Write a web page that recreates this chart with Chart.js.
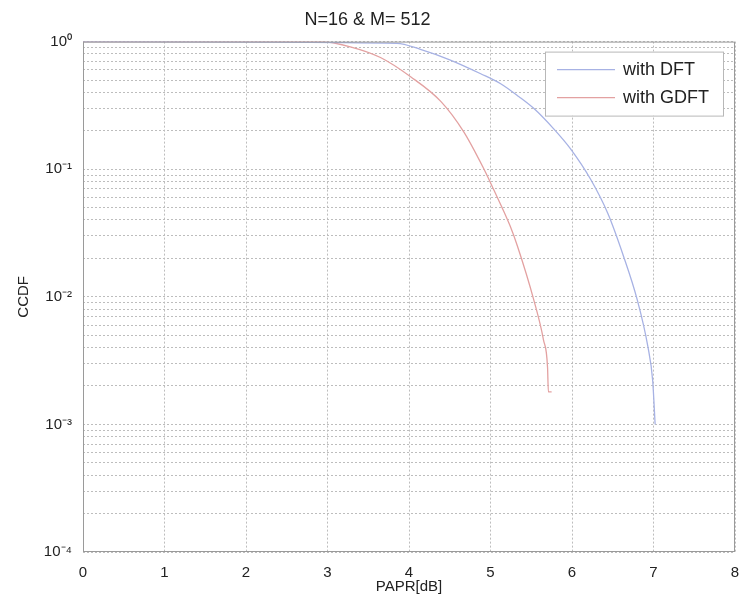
<!DOCTYPE html>
<html>
<head>
<meta charset="utf-8">
<script src="https://cdn.jsdelivr.net/npm/chart.js@4/dist/chart.umd.min.js"></script>
<style>
  html, body { margin: 0; padding: 0; background: #fff; }
  #wrap { width: 741px; height: 607px; }
</style>
</head>
<body>
<div id="wrap"><canvas id="ccdf"></canvas></div>
<script>
// PAPR [dB] and CCDF
const dftPapr = [0, 3.85, 4.14, 4.5, 4.88, 5.12, 5.35, 5.53, 5.77, 5.98, 6.23, 6.44, 6.63, 6.80, 6.93, 6.99, 7.02];
const dftCcdf = [1, 0.97, 0.87, 0.72, 0.56, 0.47, 0.37, 0.30, 0.209, 0.145, 0.083, 0.045, 0.021, 0.0095, 0.0041, 0.0022, 0.0010];

const gdftPapr = [0, 2.92, 3.28, 3.65, 4.02, 4.39, 4.67, 4.91, 5.04, 5.24, 5.33, 5.53, 5.65, 5.70, 5.71, 5.75];
const gdftCcdf = [1, 1, 0.91, 0.75, 0.53, 0.34, 0.197, 0.103, 0.069, 0.036, 0.025, 0.0095, 0.0046, 0.0028, 0.0018, 0.0018];

const xTicks = [0, 1, 2, 3, 4, 5, 6, 7, 8];
const decades = [-4, -3, -2, -1, 0];
const labels = ['with DFT', 'with GDFT'];
const colors = ['#a7b2e4', '#e3a1a1'];

const FONT = 'Arial, "Liberation Sans", Helvetica, sans-serif';
const sup = { '0': '\u2070', '1': '\u00B9', '2': '\u00B2', '3': '\u00B3', '4': '\u2074', '-': '\u207B' };
const toSup = (n) => String(n).split('').map((c) => sup[c]).join('');

// log grid values: 1..9 x 10^k
const yGrid = [];
decades.forEach((k) => {
  if (k === 0) { yGrid.push(1); return; }
  for (let m = 1; m <= 9; m++) yGrid.push(m * Math.pow(10, k));
});

const pts = (xs, ys) => xs.map((x, i) => ({ x: x, y: ys[i] }));

const boxAndLegend = {
  id: 'boxAndLegend',
  afterDraw(chart) {
    const { ctx, chartArea: a } = chart;
    ctx.save();
    ctx.strokeStyle = '#9a9a9a';
    ctx.lineWidth = 1;
    ctx.strokeRect(a.left + 0.5, a.top + 0.5, a.right - a.left - 1, a.bottom - a.top - 1);

    // legend box, top right inside the axes
    const w = 178, h = 64;
    const bx = a.right - 12 - w, by = a.top + 10;
    ctx.fillStyle = '#fff';
    ctx.fillRect(bx, by, w, h);
    ctx.strokeStyle = '#b8b8b8';
    ctx.strokeRect(bx + 0.5, by + 0.5, w, h);
    ctx.font = '18px ' + FONT;
    ctx.textBaseline = 'middle';
    chart.data.datasets.forEach((ds, i) => {
      const ly = by + 18 + i * 28;
      ctx.strokeStyle = ds.borderColor;
      ctx.lineWidth = 1.3;
      ctx.beginPath();
      ctx.moveTo(bx + 12, ly);
      ctx.lineTo(bx + 70, ly);
      ctx.stroke();
      ctx.fillStyle = '#222';
      ctx.fillText(ds.label, bx + 78, ly);
    });
    ctx.restore();
  }
};

new Chart(document.getElementById('ccdf'), {
  type: 'line',
  data: {
    datasets: [
      { label: labels[0], data: pts(dftPapr, dftCcdf), borderColor: colors[0] },
      { label: labels[1], data: pts(gdftPapr, gdftCcdf), borderColor: colors[1] },
    ],
  },
  options: {
    responsive: true,
    maintainAspectRatio: false,
    animation: false,
    layout: { padding: { left: 0, right: 6, top: 0, bottom: 0 } },
    elements: {
      point: { radius: 0 },
      line: { borderWidth: 1.3, cubicInterpolationMode: 'monotone', fill: false },
    },
    plugins: {
      legend: { display: false },
      tooltip: { enabled: false },
      title: {
        display: true,
        text: 'N=16 & M= 512',
        color: '#222',
        font: { family: FONT, size: 18, weight: 'normal' },
        padding: { top: 9, bottom: 11 },
      },
    },
    scales: {
      x: {
        type: 'linear',
        min: 0,
        max: 8,
        afterBuildTicks: (s) => { s.ticks = xTicks.map((v) => ({ value: v })); },
        afterFit: (s) => { s.height = 55; s.paddingLeft = 0; s.paddingRight = 0; },
        ticks: { color: '#222', font: { family: FONT, size: 15 }, padding: 12, autoSkip: false, maxRotation: 0 },
        grid: { color: '#bdbdbd', lineWidth: 1, drawTicks: false },
        border: { display: false, dash: [2, 2] },
        title: {
          display: true,
          text: 'PAPR[dB]',
          color: '#222',
          font: { family: FONT, size: 15 },
          padding: { top: 0, bottom: 11 },
        },
      },
      y: {
        type: 'logarithmic',
        min: 1e-4,
        max: 1,
        afterBuildTicks: (s) => { s.ticks = yGrid.map((v) => ({ value: v })); },
        afterFit: (s) => { s.width = 83; },
        ticks: {
          color: '#222',
          font: { family: FONT, size: 15 },
          padding: 11,
          autoSkip: false,
          callback: (v) => {
            const e = Math.log10(v);
            return Math.abs(e - Math.round(e)) < 1e-6 ? '10' + toSup(Math.round(e)) : '';
          },
        },
        grid: { color: '#bdbdbd', lineWidth: 1, drawTicks: false },
        border: { display: false, dash: [2, 2] },
        title: {
          display: true,
          text: 'CCDF',
          color: '#222',
          font: { family: FONT, size: 15 },
          padding: { top: 15, bottom: 0 },
        },
      },
    },
  },
  plugins: [boxAndLegend],
});
</script>
</body>
</html>
